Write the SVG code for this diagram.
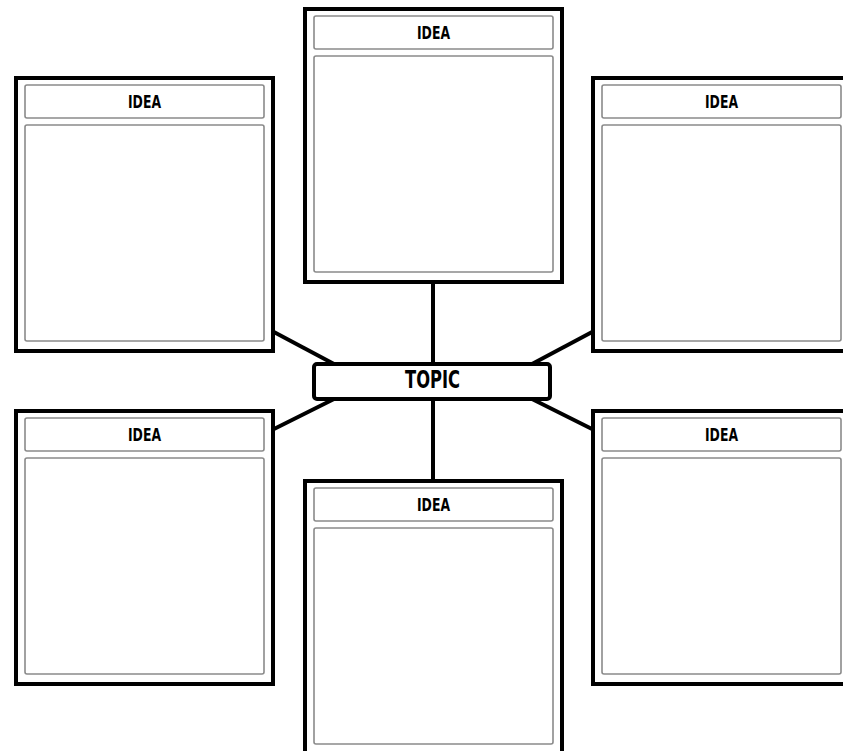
<svg xmlns="http://www.w3.org/2000/svg" width="843" height="751" viewBox="0 0 843 751">
  <style>
    .frame { fill: #fff; stroke: #000; stroke-width: 4; }
    .panel { fill: #fff; stroke: #8a8a8a; stroke-width: 1.6; }
    .link { stroke: #000; stroke-width: 4; fill: none; }
    .label { font-family: "DejaVu Sans", "Liberation Sans", sans-serif; font-stretch: condensed; font-weight: bold; fill: #000; text-anchor: middle; }
    .idea { font-size: 17px; }
    .topic { font-size: 25px; }
  </style>
  <defs>
    <!-- one idea card: outer frame, title strip and writing area -->
    <g id="card">
      <rect class="frame" x="2" y="2" width="257" height="273"/>
      <rect class="panel" x="11" y="9" width="239" height="33" rx="2"/>
      <rect class="panel" x="11" y="49" width="239" height="216" rx="2"/>
      <text class="label idea" x="130.5" y="32" textLength="33" lengthAdjust="spacingAndGlyphs">IDEA</text>
    </g>
  </defs>

  <rect width="843" height="751" fill="#fff"/>

  <g id="connectors">
    <line class="link" x1="433" y1="281" x2="433" y2="364"/>
    <line class="link" x1="433" y1="399" x2="433" y2="483"/>
    <line class="link" x1="272" y1="331" x2="334" y2="364"/>
    <line class="link" x1="272" y1="430" x2="334" y2="399"/>
    <line class="link" x1="594" y1="331" x2="532" y2="364"/>
    <line class="link" x1="594" y1="430" x2="532" y2="399"/>
  </g>

  <g id="idea-top"><use href="#card" x="303" y="7"/></g>
  <g id="idea-top-left"><use href="#card" x="14" y="76"/></g>
  <g id="idea-top-right"><use href="#card" x="591" y="76"/></g>
  <g id="idea-bottom-left"><use href="#card" x="14" y="409"/></g>
  <g id="idea-bottom-right"><use href="#card" x="591" y="409"/></g>
  <g id="idea-bottom"><use href="#card" x="303" y="479"/></g>

  <g id="topic">
    <rect class="frame" x="314" y="364" width="236" height="35" rx="3"/>
    <text class="label topic" x="432.5" y="388" textLength="55" lengthAdjust="spacingAndGlyphs">TOPIC</text>
  </g>
</svg>
